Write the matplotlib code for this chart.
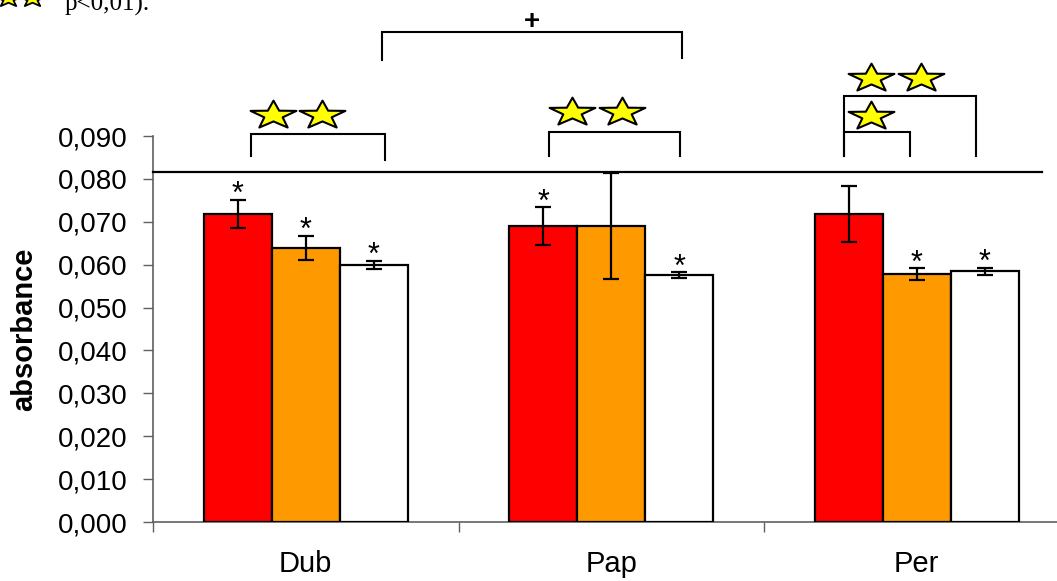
import numpy as np
import matplotlib.pyplot as plt
from matplotlib.path import Path

plt.rcParams['font.family'] = ['Liberation Sans', 'DejaVu Sans']

groups = ['Dub', 'Pap', 'Per']
red_vals = [0.0718, 0.0690, 0.0718]
red_err = [0.0033, 0.0044, 0.0065]
orange_vals = [0.0639, 0.0690, 0.0578]
orange_err = [0.0028, 0.0124, 0.0014]
white_vals = [0.0599, 0.0576, 0.0585]
white_err = [0.0010, 0.0006, 0.0008]
red_star = [True, True, False]
orange_star = [True, False, True]
white_star = [True, True, True]
yticks = [0.0, 0.01, 0.02, 0.03, 0.04, 0.05, 0.06, 0.07, 0.08, 0.09]

# significance brackets: (x_left, x_right, y_top, y_bottom_left, y_bottom_right)
brackets = [(0.750, 1.732, 0.1142, 0.1077, 0.1082),
            (0.321, 0.759, 0.0905, 0.0853, 0.0844),
            (1.296, 1.725, 0.0909, 0.0853, 0.0853),
            (2.262, 2.694, 0.0993, 0.0853, 0.0853),
            (2.262, 2.478, 0.0909, 0.0853, 0.0853)]
star_x = [0.393, 0.553, 1.372, 1.535, 2.350, 2.514, 2.350]
star_y = [0.0949, 0.0949, 0.0956, 0.0956, 0.1035, 0.1035, 0.0947]
cut_line_y = 0.0816

W, H = 1057, 581
fig = plt.figure(figsize=(W / 100, H / 100), dpi=100)
ax = fig.add_axes([153 / W, (H - 522) / H, 916.5 / W, 386 / H])

x = np.arange(len(groups)) + 0.5
bw = 0.2226
ekw = dict(ecolor='black', elinewidth=1.6, capsize=5.8, capthick=1.6)
ax.bar(x - bw, red_vals, bw, color='#FF0000', edgecolor='black', lw=1.6,
       yerr=red_err, error_kw=ekw, zorder=3)
ax.bar(x, orange_vals, bw, color='#FF9900', edgecolor='black', lw=1.6,
       yerr=orange_err, error_kw=ekw, zorder=3)
ax.bar(x + bw, white_vals, bw, color='white', edgecolor='black', lw=1.6,
       yerr=white_err, error_kw=ekw, zorder=3)

for off, vals, errs, flags in [(-bw, red_vals, red_err, red_star),
                               (0, orange_vals, orange_err, orange_star),
                               (bw, white_vals, white_err, white_star)]:
    for i in range(len(groups)):
        if flags[i]:
            ax.annotate('*', (x[i] + off, vals[i] + errs[i]), xytext=(0, -2.5),
                        textcoords='offset points', ha='center', va='baseline',
                        fontsize=22, zorder=5)

ax.set_xlim(0, 3)
ax.set_ylim(0, 0.09)
ax.set_yticks(yticks)
ax.set_yticklabels([('%.3f' % v).replace('.', ',') for v in yticks], fontsize=20)
ax.set_xticks([0, 1, 2, 3])
ax.set_xticklabels([])
ax.set_xticks(x, minor=True)
ax.set_xticklabels(groups, minor=True, fontsize=21)
ax.tick_params(axis='y', length=7.2, width=1, color='#606060', pad=11)
ax.tick_params(axis='x', which='major', length=7.2, width=1, color='#606060')
ax.tick_params(axis='x', which='minor', length=0, pad=20)
for s in ['top', 'right']:
    ax.spines[s].set_visible(False)
for s in ['left', 'bottom']:
    ax.spines[s].set_color('#606060')
    ax.spines[s].set_linewidth(1.2)
ax.set_ylabel('absorbance', fontsize=21, fontweight='bold')
ax.yaxis.set_label_coords(-0.125, 0.5)

ax.plot([0, 2.91], [cut_line_y, cut_line_y], color='black', lw=1.6,
        clip_on=False, zorder=6)
for xl, xr, yt, ybl, ybr in brackets:
    ax.plot([xl, xl, xr, xr], [ybl, yt, yt, ybr], color='black', lw=1.5,
            clip_on=False, solid_joinstyle='miter')
ax.text(1.24, 0.1165, '+', ha='center', va='center', fontsize=20,
        fontweight='bold')

# squashed five-pointed star marker
ang = np.pi / 2 + np.arange(10) * np.pi / 5
rad = np.where(np.arange(10) % 2 == 0, 1.0, 0.40)
verts = np.column_stack([rad * np.cos(ang), 0.617 * rad * np.sin(ang)])
verts = np.vstack([verts, verts[:1]])
star = Path(verts, closed=True)
ax.plot(star_x, star_y, ls='none', marker=star, ms=33, mfc='#FFFF00',
        mec='black', mew=1.5, clip_on=False, zorder=6)

# fragment of the caption above the chart
fig.lines.append(plt.Line2D([8 / W, 32 / W], [1 - (-1) / H, 1 - (-1) / H],
                            transform=fig.transFigure, ls='none', marker=star,
                            ms=18, mfc='#FFFF00', mec='black', mew=1.3))
fig.text(65 / W, 1 - 11 / H, 'p<0,01).', family='Liberation Serif',
         fontsize=18, va='baseline', ha='left')

fig.savefig('out.png', dpi=100)
